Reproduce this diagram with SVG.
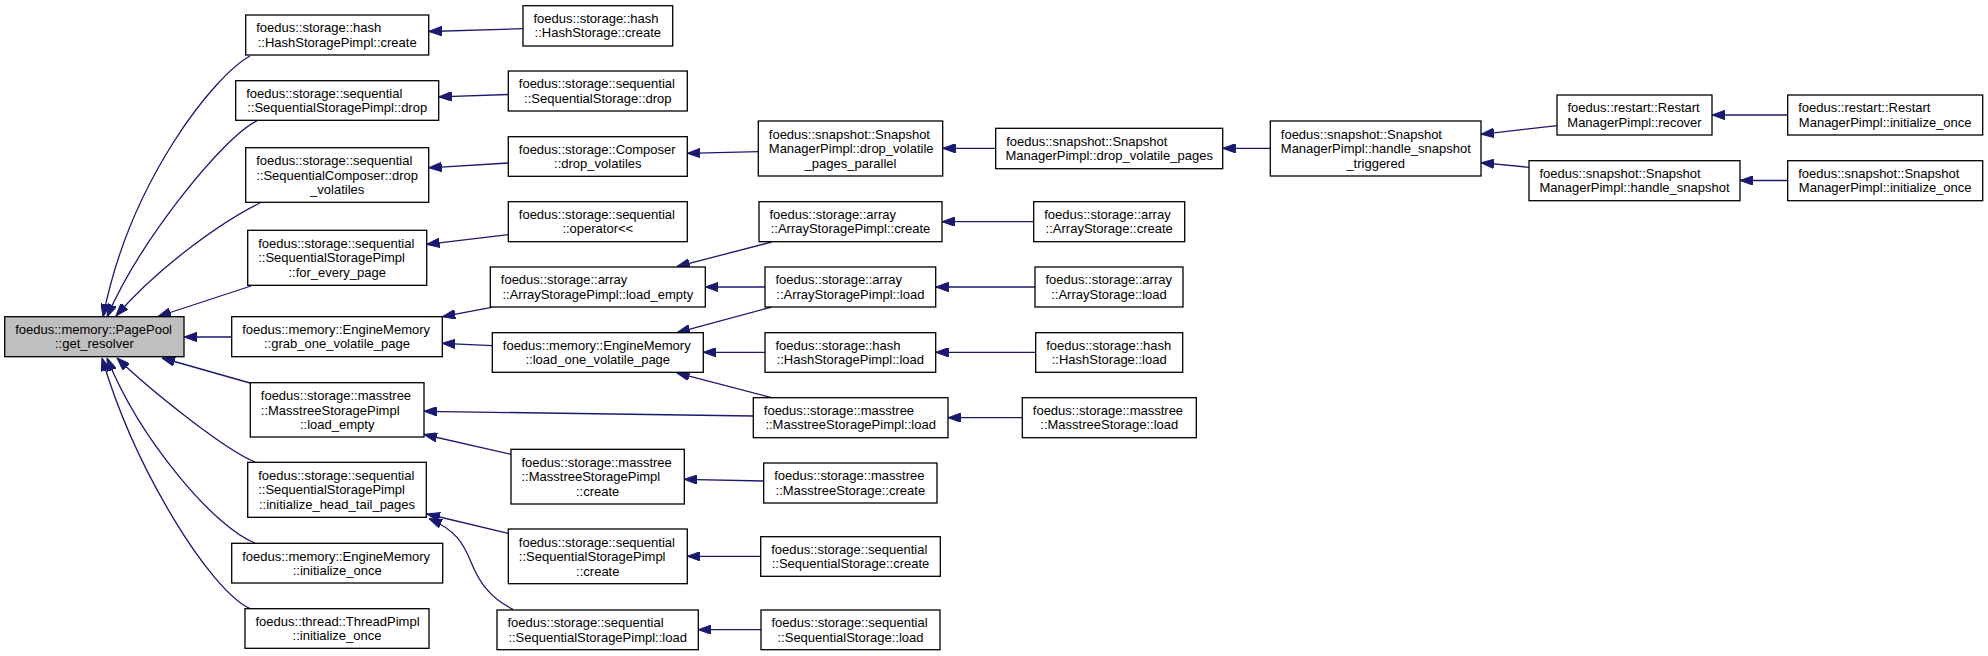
<svg xmlns="http://www.w3.org/2000/svg" width="1988" height="656" viewBox="0 0 1988 656">
<defs>
<marker id="ah" markerUnits="userSpaceOnUse" viewBox="0 0 13 9.4" refX="13" refY="4.7" markerWidth="13" markerHeight="9.4" orient="auto">
<path d="M0,0 L13,4.7 L0,9.4 z" fill="#191970" stroke="#191970" stroke-width="1"/>
</marker>
</defs>
<style>
.node rect{fill:#ffffff;stroke:#000000;stroke-width:1.3}
.node.root rect{fill:#bfbfbf}
.node text{font-family:"Liberation Sans",Arial,sans-serif;font-size:13px;fill:#000000}
.node text.l{text-anchor:start}
.node text.c{text-anchor:middle}
.edges path{fill:none;stroke:#191970;stroke-width:1.3;marker-end:url(#ah)}
</style>
<rect x="0" y="0" width="1988" height="656" fill="#ffffff"/>
<g id="edges" class="edges">
<path d="M250,56 C215,75 130,180 103,317"/>
<path d="M257,121 C225,135 140,240 107,317"/>
<path d="M260,203 C225,220 160,265 116,316"/>
<path d="M251,286 L158,316.5"/>
<path d="M231.7,337 L184,337"/>
<path d="M250,383 L162,358"/>
<path d="M255,462 C225,450 150,390 117,358"/>
<path d="M255,543 C215,528 140,440 107,358"/>
<path d="M250,608.7 C210,590 135,470 102,358"/>
<path d="M523,28.7 L428.7,31.5"/>
<path d="M508.3,94.5 L438.7,96.8"/>
<path d="M508.3,163 L428.7,167.8"/>
<path d="M508.3,234.7 L426.7,244.3"/>
<path d="M491.7,307.3 L442.3,316.7"/>
<path d="M492.3,345.7 L442.3,343.3"/>
<path d="M753.3,416 C600,413.5 500,411.5 424,411.3"/>
<path d="M511,454.3 L424,434.5"/>
<path d="M508.3,533.3 L427,514"/>
<path d="M513,609.3 C490,598 479,582 471,562 C463,542 455,530 429,518.5"/>
<path d="M758.3,151.7 L687.3,153.3"/>
<path d="M995.7,148.3 L942.7,148.3"/>
<path d="M1270.3,148.3 L1222.7,148.3"/>
<path d="M1557,125.7 L1481,134.3"/>
<path d="M1529,167.3 L1481,162.7"/>
<path d="M1787.7,115 L1712,115"/>
<path d="M1787.7,180.5 L1740,180.5"/>
<path d="M771.7,242 L676.7,266.7"/>
<path d="M765,287 L705.3,287"/>
<path d="M771.7,307 L677,332.7"/>
<path d="M765,352.3 L703.3,352.3"/>
<path d="M771.7,397.7 L676.7,372.8"/>
<path d="M763.7,481 L684.3,479.3"/>
<path d="M760.7,556.3 L687.3,556.3"/>
<path d="M761,629.7 L698.3,629.7"/>
<path d="M1033.7,221.7 L942,221.7"/>
<path d="M1035,287 L935.7,287"/>
<path d="M1035.7,352.3 L935.7,352.3"/>
<path d="M1022.3,417.7 L948,417.7"/>
</g>
<g id="n0" class="node root"><rect x="4.7" y="316.7" width="179.3" height="40"/><text class="l" x="15.2" y="333.9">foedus::memory::PagePool</text><text class="c" x="94.35" y="348.4">::get_resolver</text></g>
<g id="n2" class="node"><rect x="245.7" y="15" width="183" height="40"/><text class="l" x="256.2" y="32.2">foedus::storage::hash</text><text class="c" x="337.2" y="46.7">::HashStoragePimpl::create</text></g>
<g id="n3" class="node"><rect x="235.7" y="80.7" width="203" height="39.6"/><text class="l" x="246.2" y="97.9">foedus::storage::sequential</text><text class="c" x="337.2" y="112.4">::SequentialStoragePimpl::drop</text></g>
<g id="n4" class="node"><rect x="245.7" y="147.7" width="183" height="54.6"/><text class="l" x="256.2" y="165.2">foedus::storage::sequential</text><text class="l" x="256.2" y="179.7">::SequentialComposer::drop</text><text class="c" x="337.2" y="194.2">_volatiles</text></g>
<g id="n5" class="node"><rect x="247.7" y="230.3" width="179" height="55"/><text class="l" x="258.2" y="247.8">foedus::storage::sequential</text><text class="l" x="258.2" y="262.3">::SequentialStoragePimpl</text><text class="c" x="337.2" y="276.8">::for_every_page</text></g>
<g id="n6" class="node"><rect x="231.7" y="316.7" width="210.6" height="40"/><text class="l" x="242.2" y="333.9">foedus::memory::EngineMemory</text><text class="c" x="337" y="348.4">::grab_one_volatile_page</text></g>
<g id="n7" class="node"><rect x="250.3" y="382.7" width="173.7" height="54.3"/><text class="l" x="260.8" y="400.2">foedus::storage::masstree</text><text class="l" x="260.8" y="414.7">::MasstreeStoragePimpl</text><text class="c" x="337.2" y="429.2">::load_empty</text></g>
<g id="n8" class="node"><rect x="247.7" y="462.3" width="178.6" height="55"/><text class="l" x="258.2" y="479.8">foedus::storage::sequential</text><text class="l" x="258.2" y="494.3">::SequentialStoragePimpl</text><text class="c" x="337" y="508.8">::initialize_head_tail_pages</text></g>
<g id="n9" class="node"><rect x="231.7" y="543.3" width="211" height="39.7"/><text class="l" x="242.2" y="560.5">foedus::memory::EngineMemory</text><text class="c" x="337.2" y="575">::initialize_once</text></g>
<g id="n10" class="node"><rect x="245" y="608.7" width="184" height="39.6"/><text class="l" x="255.5" y="625.9">foedus::thread::ThreadPimpl</text><text class="c" x="337" y="640.4">::initialize_once</text></g>
<g id="n11" class="node"><rect x="523" y="5.7" width="149.7" height="40.3"/><text class="l" x="533.5" y="22.9">foedus::storage::hash</text><text class="c" x="597.85" y="37.4">::HashStorage::create</text></g>
<g id="n12" class="node"><rect x="508.3" y="71" width="179" height="40"/><text class="l" x="518.8" y="88.2">foedus::storage::sequential</text><text class="c" x="597.8" y="102.7">::SequentialStorage::drop</text></g>
<g id="n13" class="node"><rect x="508.3" y="136.7" width="179" height="39.6"/><text class="l" x="518.8" y="153.9">foedus::storage::Composer</text><text class="c" x="597.8" y="168.4">::drop_volatiles</text></g>
<g id="n14" class="node"><rect x="508.3" y="201.7" width="179" height="40"/><text class="l" x="518.8" y="218.9">foedus::storage::sequential</text><text class="c" x="597.8" y="233.4">::operator&lt;&lt;</text></g>
<g id="n15" class="node"><rect x="490.3" y="267" width="215" height="40"/><text class="l" x="500.8" y="284.2">foedus::storage::array</text><text class="c" x="597.8" y="298.7">::ArrayStoragePimpl::load_empty</text></g>
<g id="n16" class="node"><rect x="492.3" y="332.7" width="211" height="39.6"/><text class="l" x="502.8" y="349.9">foedus::memory::EngineMemory</text><text class="c" x="597.8" y="364.4">::load_one_volatile_page</text></g>
<g id="n17" class="node"><rect x="511" y="449.3" width="173.3" height="54.7"/><text class="l" x="521.5" y="466.8">foedus::storage::masstree</text><text class="l" x="521.5" y="481.3">::MasstreeStoragePimpl</text><text class="c" x="597.65" y="495.8">::create</text></g>
<g id="n18" class="node"><rect x="508.3" y="529" width="179" height="54.7"/><text class="l" x="518.8" y="546.5">foedus::storage::sequential</text><text class="l" x="518.8" y="561">::SequentialStoragePimpl</text><text class="c" x="597.8" y="575.5">::create</text></g>
<g id="n19" class="node"><rect x="497" y="610" width="201.3" height="39.7"/><text class="l" x="507.5" y="627.2">foedus::storage::sequential</text><text class="c" x="597.65" y="641.7">::SequentialStoragePimpl::load</text></g>
<g id="n20" class="node"><rect x="758.3" y="121" width="184.4" height="55"/><text class="l" x="768.8" y="138.5">foedus::snapshot::Snapshot</text><text class="l" x="768.8" y="153">ManagerPimpl::drop_volatile</text><text class="c" x="850.5" y="167.5">_pages_parallel</text></g>
<g id="n21" class="node"><rect x="759" y="201.7" width="183" height="40"/><text class="l" x="769.5" y="218.9">foedus::storage::array</text><text class="c" x="850.5" y="233.4">::ArrayStoragePimpl::create</text></g>
<g id="n22" class="node"><rect x="765" y="267" width="170.7" height="40"/><text class="l" x="775.5" y="284.2">foedus::storage::array</text><text class="c" x="850.35" y="298.7">::ArrayStoragePimpl::load</text></g>
<g id="n23" class="node"><rect x="765" y="332.7" width="170.7" height="39.6"/><text class="l" x="775.5" y="349.9">foedus::storage::hash</text><text class="c" x="850.35" y="364.4">::HashStoragePimpl::load</text></g>
<g id="n24" class="node"><rect x="753.3" y="397.7" width="194.7" height="40"/><text class="l" x="763.8" y="414.9">foedus::storage::masstree</text><text class="c" x="850.65" y="429.4">::MasstreeStoragePimpl::load</text></g>
<g id="n25" class="node"><rect x="763.7" y="463" width="173.3" height="40"/><text class="l" x="774.2" y="480.2">foedus::storage::masstree</text><text class="c" x="850.35" y="494.7">::MasstreeStorage::create</text></g>
<g id="n26" class="node"><rect x="760.7" y="536.7" width="179.6" height="39.6"/><text class="l" x="771.2" y="553.9">foedus::storage::sequential</text><text class="c" x="850.5" y="568.4">::SequentialStorage::create</text></g>
<g id="n27" class="node"><rect x="761" y="610" width="179" height="39.7"/><text class="l" x="771.5" y="627.2">foedus::storage::sequential</text><text class="c" x="850.5" y="641.7">::SequentialStorage::load</text></g>
<g id="n28" class="node"><rect x="995.7" y="128.3" width="227" height="40.4"/><text class="l" x="1006.2" y="145.5">foedus::snapshot::Snapshot</text><text class="c" x="1109.2" y="160">ManagerPimpl::drop_volatile_pages</text></g>
<g id="n29" class="node"><rect x="1033.7" y="201.7" width="151" height="40"/><text class="l" x="1044.2" y="218.9">foedus::storage::array</text><text class="c" x="1109.2" y="233.4">::ArrayStorage::create</text></g>
<g id="n30" class="node"><rect x="1035" y="267" width="148" height="40"/><text class="l" x="1045.5" y="284.2">foedus::storage::array</text><text class="c" x="1109" y="298.7">::ArrayStorage::load</text></g>
<g id="n31" class="node"><rect x="1035.7" y="332.7" width="147" height="39.6"/><text class="l" x="1046.2" y="349.9">foedus::storage::hash</text><text class="c" x="1109.2" y="364.4">::HashStorage::load</text></g>
<g id="n32" class="node"><rect x="1022.3" y="397.7" width="174" height="40"/><text class="l" x="1032.8" y="414.9">foedus::storage::masstree</text><text class="c" x="1109.3" y="429.4">::MasstreeStorage::load</text></g>
<g id="n33" class="node"><rect x="1270.3" y="121" width="210.7" height="55"/><text class="l" x="1280.8" y="138.5">foedus::snapshot::Snapshot</text><text class="l" x="1280.8" y="153">ManagerPimpl::handle_snapshot</text><text class="c" x="1375.65" y="167.5">_triggered</text></g>
<g id="n34" class="node"><rect x="1557" y="95" width="155" height="40"/><text class="l" x="1567.5" y="112.2">foedus::restart::Restart</text><text class="c" x="1634.5" y="126.7">ManagerPimpl::recover</text></g>
<g id="n35" class="node"><rect x="1529" y="160.7" width="211" height="40"/><text class="l" x="1539.5" y="177.9">foedus::snapshot::Snapshot</text><text class="c" x="1634.5" y="192.4">ManagerPimpl::handle_snapshot</text></g>
<g id="n36" class="node"><rect x="1787.7" y="95" width="195" height="40"/><text class="l" x="1798.2" y="112.2">foedus::restart::Restart</text><text class="c" x="1885.2" y="126.7">ManagerPimpl::initialize_once</text></g>
<g id="n37" class="node"><rect x="1787.7" y="160.7" width="195" height="40"/><text class="l" x="1798.2" y="177.9">foedus::snapshot::Snapshot</text><text class="c" x="1885.2" y="192.4">ManagerPimpl::initialize_once</text></g>
</svg>
